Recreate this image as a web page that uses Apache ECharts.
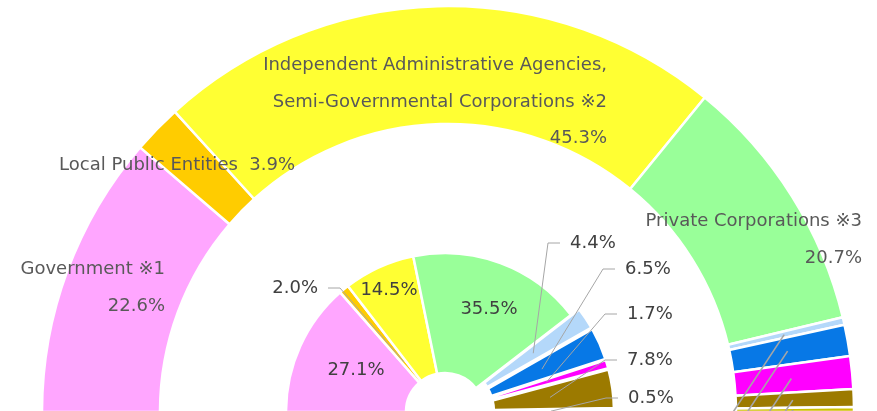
<!DOCTYPE html>
<html lang="en">
<head>
<meta charset="UTF-8">
<title>R&amp;D share by sector</title>
<script src="https://cdn.jsdelivr.net/npm/echarts@6/dist/echarts.min.js"></script>
<style>html,body{margin:0;padding:0;background:#fff;}</style>
</head>
<body>
<div id="chart" style="width:877px;height:411px;"></div>
<script>
const categories = [
  'Government ※1',
  'Local Public Entities',
  'Independent Administrative Agencies,\nSemi-Governmental Corporations ※2',
  'Private Corporations ※3',
  'Universities',
  'Non-Profit Organizations',
  'Foreign',
  'Others',
  'Unknown'
];
const outerValues = [22.6, 3.9, 45.3, 20.7, 0.6, 2.5, 2.6, 1.4, 0.4];
const innerValues = [27.1, 2.0, 14.5, 35.5, 4.4, 6.5, 1.7, 7.8, 0.5];
const colors = ['#FFA6FF', '#FFCC00', '#FFFF33', '#99FF99', '#B4D8FA', '#0778E6', '#FF00FF', '#9C7A00', '#CCC000'];

// geometry
const OUTER = { cx: 448, cy: 412, r0: 288, r1: 406 };
const INNER = { cx: 445, cy: 412, r0: 39, r1: 159, explode: 10 };
const exploded = [false, false, false, false, true, true, true, true, true];

// label placement [x, y, align]
const outerLabelPos = [[165, 288, 'right'], [295, 165, 'right'], [607, 102, 'right'], [862, 240, 'right']];
const innerLabelPos = [
  [356, 370, 'center'], [318, 288, 'right'], [389, 290, 'center'], [489, 309, 'center'],
  [570, 243, 'left'], [625, 269, 'left'], [627, 314, 'left'], [627, 360, 'left'], [628, 398, 'left']
];
const innerAnchorR = [0, 65, 0, 0, 106, 106, 106, 106, 106];

function midAngle(values, i) {
  const total = values.reduce((a, b) => a + b, 0);
  let cum = 0;
  for (let k = 0; k < i; k++) cum += values[k];
  return (180 - (cum + values[i] / 2) / total * 180) * Math.PI / 180;
}
function polar(c, r, a) {
  return [c.cx + r * Math.cos(a), c.cy - r * Math.sin(a)];
}

const hidden = { color: 'transparent', borderWidth: 0 };

// one half-ring; slices only, no labels
function ring(name, geo, values, visible, extra) {
  return Object.assign({
    name: name,
    type: 'pie',
    silent: true,
    center: [geo.cx, geo.cy],
    radius: [geo.r0, geo.r1],
    startAngle: 180,
    endAngle: 0,
    avoidLabelOverlap: false,
    itemStyle: { borderColor: '#fff', borderWidth: 2.5 },
    label: { show: false },
    labelLine: { show: false },
    data: categories.map((c, i) => ({
      name: c,
      value: values[i],
      itemStyle: visible(i) ? { color: colors[i] } : hidden
    }))
  }, extra || {});
}

// transparent copy of a ring that only carries the labels, drawn on top
function labelRing(name, geo, values, label, lineWidth, lineShown, layout) {
  return {
    name: name,
    type: 'pie',
    silent: true,
    z: 5,
    center: [geo.cx, geo.cy],
    radius: [geo.r0, geo.r1],
    startAngle: 180,
    endAngle: 0,
    avoidLabelOverlap: false,
    itemStyle: hidden,
    label: Object.assign({ show: true, position: 'outside', fontSize: 18, overflow: 'none' }, label),
    labelLine: { show: true, lineStyle: { color: '#A6A6A6', width: lineWidth } },
    labelLayout: layout,
    data: categories.map((c, i) => ({
      name: c,
      value: values[i],
      labelLine: { show: lineShown(i) }
    }))
  };
}

const chart = echarts.init(document.getElementById('chart'));

chart.setOption({
  animation: false,
  textStyle: { fontFamily: 'DejaVu Sans, "Noto Sans CJK JP", sans-serif' },
  series: [
    ring('outer', OUTER, outerValues, () => true),
    ring('inner', INNER, innerValues, i => !exploded[i]),
    ring('innerExploded', INNER, innerValues, i => exploded[i], {
      selectedMode: 'multiple',
      selectedOffset: INNER.explode,
      select: { itemStyle: { borderColor: '#fff', borderWidth: 2.5 } },
      data: categories.map((c, i) => ({
        name: c,
        value: innerValues[i],
        selected: exploded[i],
        itemStyle: exploded[i] ? { color: colors[i] } : hidden
      }))
    }),
    labelRing('outerLabels', OUTER, outerValues, {
      color: '#595959',
      lineHeight: 36.5,
      formatter: p => p.name + (p.dataIndex === 1 ? '  ' : '\n') + p.value.toFixed(1) + '%'
    }, 1.6, i => i >= 4, function (params) {
      const i = params.dataIndex;
      if (i < outerLabelPos.length) {
        const p = outerLabelPos[i];
        return { x: p[0], y: p[1], align: p[2], verticalAlign: 'middle' };
      }
      // labels of the small slices sit below the visible area
      const s = polar(OUTER, 345, midAngle(outerValues, i));
      const e = [s[0] - 0.66 * (416 - s[1]), 416];
      return { x: e[0], y: e[1] + 2, align: 'center', verticalAlign: 'top', labelLinePoints: [s, e, e] };
    }),
    labelRing('innerLabels', INNER, innerValues, {
      color: '#404040',
      formatter: p => p.value.toFixed(1) + '%'
    }, 1, i => innerAnchorR[i] > 0, function (params) {
      const i = params.dataIndex;
      const p = innerLabelPos[i];
      const out = { x: p[0], y: p[1], align: p[2], verticalAlign: 'middle' };
      if (innerAnchorR[i]) {
        const s = polar(INNER, innerAnchorR[i], midAngle(innerValues, i));
        const dir = p[2] === 'right' ? 1 : -1;
        const e = [p[0] + dir * 10, p[1]];
        const m = [e[0] + dir * 12, p[1]];
        out.labelLinePoints = [s, m, e];
      }
      return out;
    })
  ]
});
</script>
</body>
</html>
